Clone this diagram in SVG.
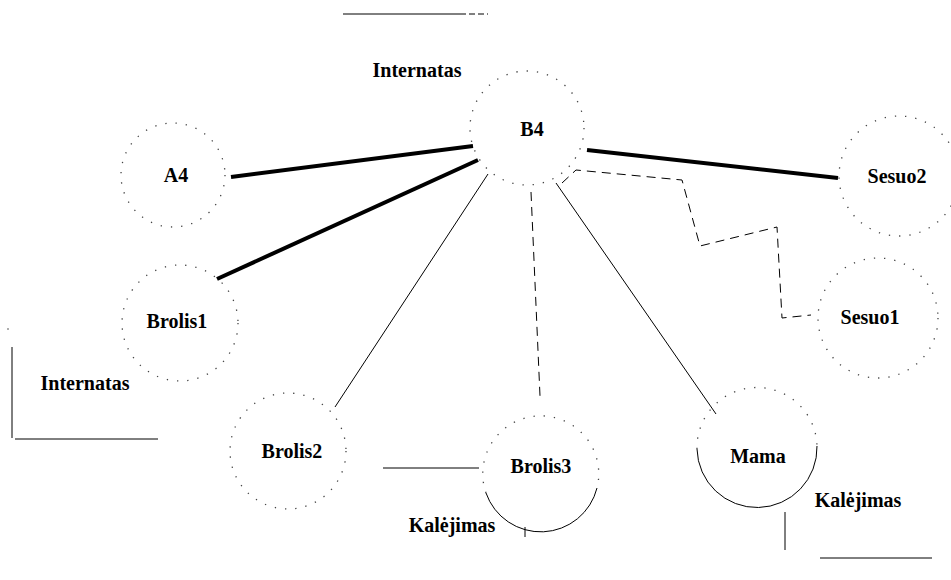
<svg xmlns="http://www.w3.org/2000/svg" width="951" height="580" viewBox="0 0 951 580">
<style>
text{font-family:"Liberation Serif","Times New Roman",serif;font-weight:bold;font-size:20px;fill:#000;text-anchor:middle}
.dot{fill:none;stroke:#444;stroke-width:1.3;stroke-dasharray:1.3 9}
.arc{fill:none;stroke:#000;stroke-width:1}
.thick{stroke:#000;stroke-width:4;fill:none}
.thin{stroke:#000;stroke-width:1;fill:none}
.dash{stroke:#000;stroke-width:1;fill:none;stroke-dasharray:9 6}
.misc{stroke:#000;stroke-width:1;fill:none}
</style>
<rect width="951" height="580" fill="#fff"/>
<g id="connectors">
<line class="thick" x1="231" y1="177" x2="473" y2="146"/>
<line class="thick" x1="217" y1="279" x2="478" y2="160"/>
<line class="thick" x1="587" y1="150" x2="838" y2="178"/>
<line class="thin" x1="335" y1="407" x2="488" y2="174"/>
<line class="dash" x1="531" y1="192" x2="540" y2="396"/>
<line class="thin" x1="556" y1="183" x2="716" y2="414"/>
<polyline class="dash" points="562,183 576,170 682,180 700,246 777,227 782,318 811,315"/>
</g>
<g id="misc">
<line class="misc" x1="343" y1="14" x2="460" y2="14"/>
<line class="misc" x1="460" y1="14" x2="488" y2="14" stroke-dasharray="6 3"/>
<line class="misc" x1="12" y1="347" x2="12" y2="438"/>
<line class="misc" x1="15" y1="439" x2="158" y2="439"/>
<line class="misc" x1="383" y1="468" x2="479" y2="468"/>
<line class="misc" x1="525" y1="527" x2="525" y2="537"/>
<line class="misc" x1="785" y1="512" x2="785" y2="550"/>
<line class="misc" x1="820" y1="558" x2="932" y2="558"/>
<circle cx="8" cy="329" r="0.8" fill="#444"/>
</g>
<g id="node-B4">
<circle class="dot" cx="527" cy="128" r="57"/>
<text x="532" y="136">B4</text>
</g>
<text x="417" y="77">Internatas</text>
<g id="node-A4">
<circle class="dot" cx="173" cy="175" r="52"/>
<text x="176" y="182">A4</text>
</g>
<g id="node-Brolis1">
<circle class="dot" cx="180" cy="323" r="58"/>
<text x="177" y="328">Brolis1</text>
</g>
<text x="85" y="390">Internatas</text>
<g id="node-Brolis2">
<circle class="dot" cx="288" cy="451" r="58"/>
<text x="292" y="458">Brolis2</text>
</g>
<g id="node-Brolis3">
<path class="dot" d="M486,493 A58,58 0 1 1 597,488"/>
<path class="arc" d="M486,493 A58,58 0 0 0 597,488"/>
<text x="541" y="473">Brolis3</text>
</g>
<text x="452" y="532">Kalėjimas</text>
<g id="node-Mama">
<path class="dot" d="M697,449 A60,60 0 1 1 817,446"/>
<path class="arc" d="M697,449 A60,60 0 0 0 817,446"/>
<text x="758" y="463">Mama</text>
</g>
<text x="858" y="507">Kalėjimas</text>
<g id="node-Sesuo2">
<circle class="dot" cx="899" cy="176" r="60"/>
<text x="897" y="183">Sesuo2</text>
</g>
<g id="node-Sesuo1">
<circle class="dot" cx="878" cy="318" r="60"/>
<text x="870" y="324">Sesuo1</text>
</g>
</svg>
